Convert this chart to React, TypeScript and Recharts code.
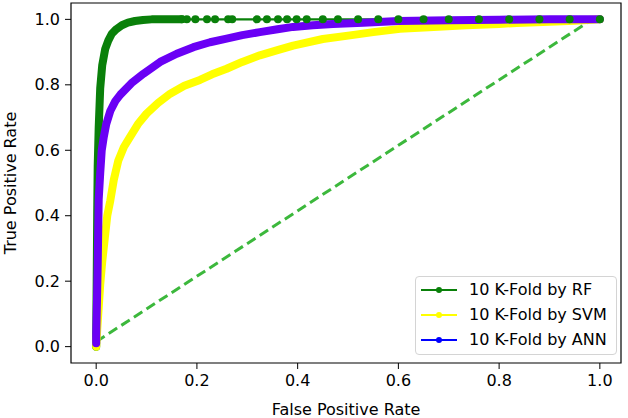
import { LineChart, Line, XAxis, YAxis, Legend, ReferenceArea } from 'recharts';

// ROC points (fpr, tpr)
const rfFpr = [0, 0, 0.001, 0.002, 0.003, 0.005, 0.008, 0.012, 0.018, 0.024, 0.031, 0.04, 0.051, 0.063, 0.077, 0.093, 0.11, 0.14, 0.17,
  0.18, 0.197, 0.22, 0.236, 0.262, 0.27, 0.319, 0.339, 0.361, 0.379, 0.398, 0.418, 0.45, 0.48, 0.52, 0.56, 0.6, 0.65, 0.7, 0.76, 0.82, 0.88, 0.94, 1.0];
const rfTpr = [0, 0.02, 0.2, 0.4, 0.55, 0.67, 0.79, 0.86, 0.91, 0.935, 0.956, 0.97, 0.982, 0.99, 0.995, 0.998, 1.0, 1.0, 1.0,
  1.0, 1.0, 1.0, 1.0, 1.0, 1.0, 1.0, 1.0, 1.0, 1.0, 1.0, 1.0, 1.0, 1.0, 1.0, 1.0, 1.0, 1.0, 1.0, 1.0, 1.0, 1.0, 1.0, 1.0];

const svmFpr = [0, 0.002, 0.005, 0.008, 0.012, 0.017, 0.022, 0.028, 0.035, 0.044, 0.055, 0.067, 0.083, 0.1, 0.123, 0.147, 0.175, 0.206,
  0.23, 0.259, 0.29, 0.325, 0.36, 0.391, 0.45, 0.504, 0.55, 0.603, 0.67, 0.735, 0.8, 0.835, 0.9, 0.95, 1.0];
const svmTpr = [0, 0.05, 0.12, 0.19, 0.26, 0.33, 0.4, 0.446, 0.51, 0.569, 0.61, 0.64, 0.68, 0.712, 0.745, 0.773, 0.797, 0.815,
  0.832, 0.849, 0.87, 0.89, 0.906, 0.92, 0.94, 0.951, 0.961, 0.971, 0.977, 0.982, 0.986, 0.989, 0.993, 0.996, 1.0];

const annFpr = [0, 0, 0, 0.002, 0.003, 0.004, 0.005, 0.008, 0.011, 0.015, 0.02, 0.028, 0.038, 0.048, 0.07, 0.094, 0.127, 0.16, 0.193,
  0.226, 0.259, 0.29, 0.325, 0.36, 0.391, 0.43, 0.47, 0.53, 0.6, 0.7, 0.8, 0.9, 1.0];
const annTpr = [0.01, 0.02, 0.03, 0.17, 0.25, 0.35, 0.45, 0.53, 0.6, 0.64, 0.68, 0.72, 0.75, 0.77, 0.805, 0.834, 0.87, 0.895, 0.915,
  0.93, 0.941, 0.952, 0.961, 0.97, 0.977, 0.982, 0.986, 0.99, 0.995, 0.997, 0.999, 1.0, 1.0];

const chanceFpr = [0, 0.985];
const chanceTpr = [0.015, 1.0];

const xTicks = [0, 0.2, 0.4, 0.6, 0.8, 1.0];
const yTicks = [0, 0.2, 0.4, 0.6, 0.8, 1.0];

const seriesNames = ['10 K-Fold by RF', '10 K-Fold by SVM', '10 K-Fold by ANN'];
const legendColors = ['#0a800a', '#ffff00', '#0000ff'];

const toPoints = (xs: number[], ys: number[]) => xs.map((x, i) => ({ x, y: ys[i] }));

const rf = toPoints(rfFpr, rfTpr);
const rfDense = rf.filter((p) => p.x <= 0.17);
const rfSparse = rf.filter((p) => p.x >= 0.17);
const svm = toPoints(svmFpr, svmTpr);
const ann = toPoints(annFpr, annTpr);
const chance = toPoints(chanceFpr, chanceTpr);

const FONT = 'DejaVu Sans, sans-serif';
const tickStyle = { fontSize: 16, fill: '#000', fontFamily: FONT };

function RocLegend() {
  return (
    <div
      style={{
        width: 202,
        height: 79,
        boxSizing: 'border-box',
        border: '1px solid #d4d4d4',
        borderRadius: 4,
        background: 'rgba(255,255,255,0.85)',
        position: 'relative',
        fontFamily: FONT,
        fontSize: 16,
        color: '#000',
      }}
    >
      {seriesNames.map((name, i) => (
        <div key={name} style={{ position: 'absolute', left: 4, top: 3 + i * 25, height: 20, display: 'flex', alignItems: 'center' }}>
          <svg width={38} height={10}>
            <line x1={1} y1={5} x2={37} y2={5} stroke={legendColors[i]} strokeWidth={2.2} />
            <circle cx={19} cy={5} r={3} fill={legendColors[i]} />
          </svg>
          <span style={{ marginLeft: 11, whiteSpace: 'nowrap', lineHeight: '20px' }}>{name}</span>
        </div>
      ))}
    </div>
  );
}

export default function App() {
  return (
    <div style={{ position: 'absolute', left: 0, top: 0, background: '#fff' }}>
      <LineChart width={628} height={418} margin={{ top: 3, right: 7, left: 0, bottom: 0 }}>
        <XAxis
          type="number"
          dataKey="x"
          domain={[-0.05, 1.042]}
          ticks={xTicks}
          tickFormatter={(v: number) => v.toFixed(1)}
          allowDataOverflow
          height={55}
          tick={tickStyle}
          tickSize={6}
          tickMargin={6}
          axisLine={false}
          tickLine={{ stroke: '#000', strokeWidth: 1 }}
          label={{ value: 'False Positive Rate', position: 'insideBottom', offset: 3, style: { fontSize: 16, fill: '#000', fontFamily: FONT } }}
        />
        <YAxis
          type="number"
          dataKey="y"
          domain={[-0.05, 1.05]}
          ticks={yTicks}
          tickFormatter={(v: number) => v.toFixed(1)}
          allowDataOverflow
          width={71}
          tick={tickStyle}
          tickSize={6}
          tickMargin={5}
          axisLine={false}
          tickLine={{ stroke: '#000', strokeWidth: 1 }}
          label={{
            value: 'True Positive Rate',
            angle: -90,
            position: 'insideLeft',
            offset: 10,
            style: { fontSize: 16, fill: '#000', fontFamily: FONT, textAnchor: 'middle' },
          }}
        />
        <ReferenceArea x1={-0.05} x2={1.042} y1={-0.05} y2={1.05} fill="none" stroke="#000" strokeWidth={1.2} ifOverflow="visible" />
        <Line
          data={chance}
          dataKey="y"
          stroke="#3cb83c"
          strokeWidth={3}
          strokeDasharray="10 5"
          dot={false}
          isAnimationActive={false}
          legendType="none"
        />
        <Line data={rfDense} dataKey="y" stroke="#0a800a" strokeWidth={8} strokeLinecap="round" strokeLinejoin="round" dot={false} isAnimationActive={false} />
        <Line
          data={rfSparse}
          dataKey="y"
          stroke="#0a800a"
          strokeWidth={2.4}
          dot={{ r: 4, fill: '#0a800a', stroke: '#0a800a', strokeWidth: 0 }}
          isAnimationActive={false}
        />
        <Line data={svm} dataKey="y" stroke="#ffff00" strokeWidth={8} strokeLinecap="round" strokeLinejoin="round" dot={false} isAnimationActive={false} />
        <Line data={ann} dataKey="y" stroke="#6a00f5" strokeWidth={8} strokeLinecap="round" strokeLinejoin="round" dot={false} isAnimationActive={false} />
        <Legend
          layout="vertical"
          align="center"
          verticalAlign="middle"
          content={() => <RocLegend />}
          wrapperStyle={{ left: 415, top: 276, width: 202, height: 79 }}
        />
      </LineChart>
    </div>
  );
}
